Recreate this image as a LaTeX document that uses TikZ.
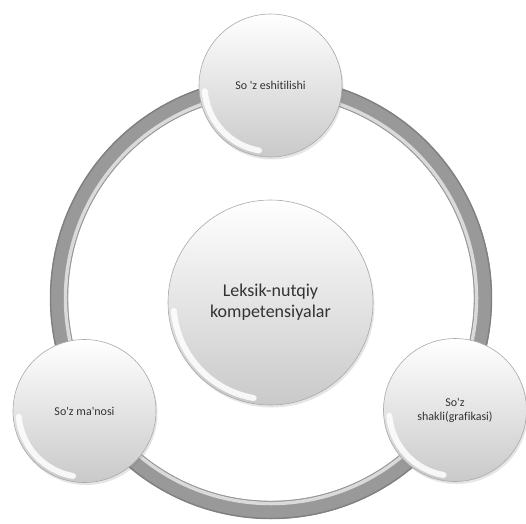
\documentclass[tikz,border=0pt]{standalone}
\usepackage{fontspec}
\setmainfont{Carlito}[Ligatures={NoCommon,NoDiscretionary,NoContextual}]
\usetikzlibrary{shadows,calc}
\definecolor{txt}{HTML}{333333}
\definecolor{ringdark}{HTML}{999999}
\definecolor{ringlight}{HTML}{DADADA}
\definecolor{rim}{HTML}{AAAAAA}
\newcommand{\q}{\textquotesingle}
\tikzset{
  ball/.style={circle, draw=rim, line width=0.6pt, top color=white, bottom color=black!21,
    shading angle=0, text=txt, align=center, inner sep=0pt,
    drop shadow={opacity=0.2, shadow xshift=1.5pt, shadow yshift=-2.5pt}},
  smallball/.style={ball, minimum size=143pt, font=\fontsize{12}{14}\selectfont},
  bigball/.style={ball, minimum size=205pt, font=\fontsize{18}{21}\selectfont},
  bevel/.style={white, line width=6pt, line cap=round, opacity=0.85}
}
\begin{document}
\begin{tikzpicture}[x=1pt,y=-1pt]
\useasboundingbox (0,0) rectangle (526,523);
\fill[white] (0,0) rectangle (526,523);
% ring
\coordinate (rc) at (271,298);
\draw[ringdark, line width=18pt] (rc) circle[radius=212];
\draw[black!50, line width=1.4pt] (rc) circle[radius=220.5];
\draw[ringlight, line width=3.5pt] (rc) circle[radius=205.5];
\draw[black!40, line width=0.8pt] (rc) circle[radius=203.2];
% circles
\node[bigball] (c) at (270.5,302.5) {Leksik-nutqiy\\kompetensiyalar};
\node[smallball] (t) at (270.5,85.5) {So \q z eshitilishi};
\node[smallball] (l) at (84.5,411) {So\q z ma\q nosi};
\node[smallball] (r) at (455,410) {So\q z\\shakli(grafikasi)};
% bevel highlights
\foreach \n/\rr in {c/97, t/66, l/66, r/66}{
  \draw[bevel] ($(\n)+(100:\rr)$) arc[start angle=100, end angle=175, radius=\rr];
}
\end{tikzpicture}
\end{document}
